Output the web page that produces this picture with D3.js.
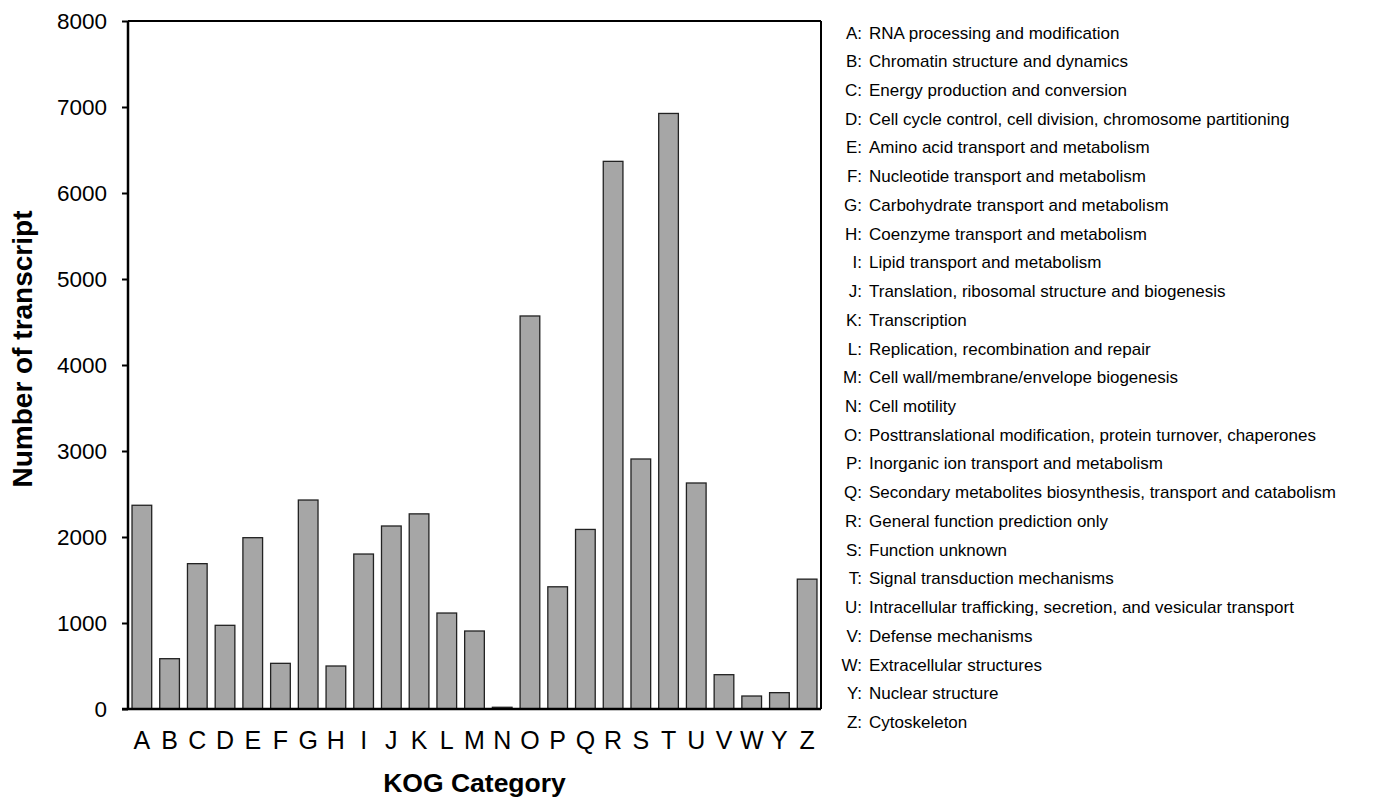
<!DOCTYPE html>
<html>
<head>
<meta charset="utf-8">
<script src="https://cdn.jsdelivr.net/npm/d3@7"></script>
<style>
  html, body { margin: 0; padding: 0; background: #fff; }
  svg { display: block; font-family: "Liberation Sans", Arial, sans-serif; }
</style>
</head>
<body>
<svg id="chart" width="1390" height="799"></svg>
<script>
const categories = ["A","B","C","D","E","F","G","H","I","J","K","L","M","N","O","P","Q","R","S","T","U","V","W","Y","Z"];
const values = [2369, 585, 1690, 973, 1992, 531, 2430, 500, 1802, 2128, 2269, 1116, 907, 20, 4570, 1421, 2088, 6368, 2907, 6925, 2628, 399, 151, 190, 1510];
const descriptions = [
  "RNA processing and modification",
  "Chromatin structure and dynamics",
  "Energy production and conversion",
  "Cell cycle control, cell division, chromosome partitioning",
  "Amino acid transport and metabolism",
  "Nucleotide transport and metabolism",
  "Carbohydrate transport and metabolism",
  "Coenzyme transport and metabolism",
  "Lipid transport and metabolism",
  "Translation, ribosomal structure and biogenesis",
  "Transcription",
  "Replication, recombination and repair",
  "Cell wall/membrane/envelope biogenesis",
  "Cell motility",
  "Posttranslational modification, protein turnover, chaperones",
  "Inorganic ion transport and metabolism",
  "Secondary metabolites biosynthesis, transport and catabolism",
  "General function prediction only",
  "Function unknown",
  "Signal transduction mechanisms",
  "Intracellular trafficking, secretion, and vesicular transport",
  "Defense mechanisms",
  "Extracellular structures",
  "Nuclear structure",
  "Cytoskeleton"
];
const yTicks = [0, 1000, 2000, 3000, 4000, 5000, 6000, 7000, 8000];
const yTitle = "Number of transcript";
const xTitle = "KOG Category";

const svg = d3.select("#chart");
const pLeft = 128, pRight = 821, pTop = 21, pBottom = 709;

const x = d3.scaleBand().domain(categories).range([pLeft, pRight]).paddingInner(0.29).paddingOuter(0.145);
const y = d3.scaleLinear().domain([0, 8000]).range([pBottom, pTop]);

// bars
svg.append("g").selectAll("rect").data(categories).join("rect")
  .attr("x", d => x(d))
  .attr("width", x.bandwidth())
  .attr("y", (d, i) => y(values[i]))
  .attr("height", (d, i) => pBottom - y(values[i]))
  .attr("fill", "#a6a6a6")
  .attr("stroke", "#222")
  .attr("stroke-width", 1.3);

// frame (top and right)
svg.append("line").attr("x1", pLeft).attr("x2", pRight).attr("y1", pTop).attr("y2", pTop)
  .attr("stroke", "#000").attr("stroke-width", 2);
svg.append("line").attr("x1", pRight).attr("x2", pRight).attr("y1", pTop).attr("y2", pBottom)
  .attr("stroke", "#000").attr("stroke-width", 2);

// y axis
const yAxis = svg.append("g").attr("transform", `translate(${pLeft},0)`)
  .call(d3.axisLeft(y).tickValues(yTicks).tickSize(6).tickPadding(15).tickFormat(d3.format("d")));
yAxis.select(".domain").attr("stroke-width", 2.5).attr("d", `M0,${pBottom}V${pTop}`);
yAxis.selectAll(".tick line").attr("stroke-width", 2);
yAxis.selectAll("text").attr("font-size", 22.5).attr("fill", "#000")
  .attr("font-family", "'Liberation Sans', Arial, sans-serif");

// x axis
const xAxis = svg.append("g").attr("transform", `translate(0,${pBottom})`)
  .call(d3.axisBottom(x).tickSize(0).tickPadding(22));
xAxis.select(".domain").attr("stroke-width", 2.5).attr("d", `M${pLeft - 6},0H${pRight}`);
xAxis.selectAll("text").attr("font-size", 25).attr("fill", "#000")
  .attr("font-family", "'Liberation Sans', Arial, sans-serif");

// titles
svg.append("text").attr("x", (pLeft + pRight) / 2).attr("y", 792)
  .attr("text-anchor", "middle").attr("font-size", 26.5).attr("font-weight", "bold")
  .text(xTitle);
svg.append("text").attr("transform", "translate(32,349) rotate(-90)")
  .attr("text-anchor", "middle").attr("font-size", 28).attr("font-weight", "bold")
  .text(yTitle);

// legend
const legendY = d3.scalePoint().domain(categories).range([38.5, 728]);
const leg = svg.append("g").attr("font-size", 17);
leg.selectAll("text.k").data(categories).join("text").attr("class", "k")
  .attr("x", 862).attr("y", d => legendY(d)).attr("text-anchor", "end")
  .text(d => d + ":");
leg.selectAll("text.v").data(categories).join("text").attr("class", "v")
  .attr("x", 869).attr("y", d => legendY(d))
  .text((d, i) => descriptions[i]);
</script>
</body>
</html>
